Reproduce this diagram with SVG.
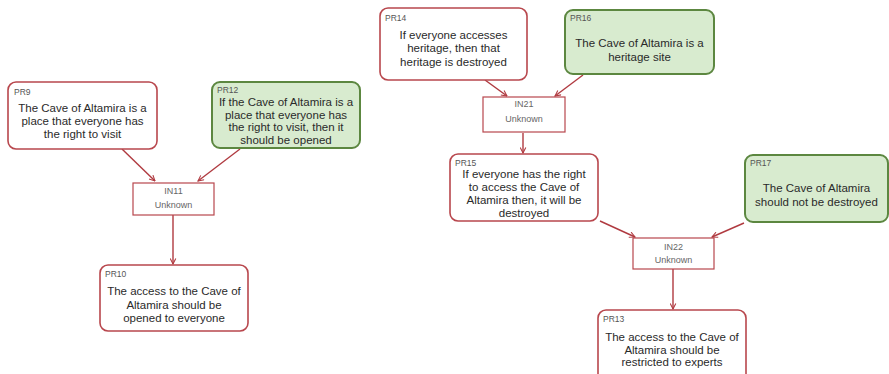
<svg xmlns="http://www.w3.org/2000/svg" width="889" height="374" viewBox="0 0 889 374">
<style>
.pr{fill:#ffffff;stroke:#b8474d;stroke-width:1.6}
.prg{fill:#d8ebcf;stroke:#5c8740;stroke-width:2}
.in{fill:#ffffff;stroke:#b8474d;stroke-width:1.2}
.lbl{font-family:"Liberation Sans",Arial,sans-serif;font-size:8.5px;fill:#555}
.txt{font-family:"Liberation Sans",Arial,sans-serif;font-size:11.5px;fill:#2a2a2a;text-anchor:middle}
.itx{font-family:"Liberation Sans",Arial,sans-serif;font-size:9px;fill:#666;text-anchor:middle}
.edge{stroke:#b03a40;stroke-width:1.4;fill:none;marker-end:url(#arr)}
</style>
<defs>
<marker id="arr" viewBox="0 0 10 10" refX="9" refY="5" markerWidth="7" markerHeight="7" orient="auto" markerUnits="userSpaceOnUse">
<path d="M1,1 L9,5 L1,9" fill="none" stroke="#b03a40" stroke-width="1.5"/>
</marker>
</defs>
<rect width="889" height="374" fill="#ffffff"/>
<g id="connectors">
<line class="edge" x1="122" y1="149" x2="155" y2="181"/>
<line class="edge" x1="240" y1="149" x2="198" y2="181"/>
<line class="edge" x1="173" y1="215" x2="173" y2="264"/>
<line class="edge" x1="485" y1="80" x2="507" y2="96"/>
<line class="edge" x1="583" y1="75" x2="555" y2="96"/>
<line class="edge" x1="523" y1="133" x2="523" y2="153"/>
<line class="edge" x1="600" y1="221" x2="635" y2="237"/>
<line class="edge" x1="744" y1="223" x2="712" y2="237"/>
<line class="edge" x1="673" y1="269" x2="673" y2="309"/>
</g>
<g id="PR9">
<rect class="pr" x="8" y="82" width="149" height="67" rx="8"/>
<text class="lbl" x="14" y="95">PR9</text>
<text class="txt" x="82.5" y="112">The Cave of Altamira is a</text>
<text class="txt" x="82.5" y="125">place that everyone has</text>
<text class="txt" x="82.5" y="138">the right to visit</text>
</g>
<g id="PR12">
<rect class="prg" x="212" y="82" width="148" height="66" rx="8"/>
<text class="lbl" x="217" y="93">PR12</text>
<text class="txt" x="286" y="106">If the Cave of Altamira is a</text>
<text class="txt" x="286" y="119">place that everyone has</text>
<text class="txt" x="286" y="131">the right to visit, then it</text>
<text class="txt" x="286" y="144">should be opened</text>
</g>
<g id="IN11">
<rect class="in" x="133" y="183" width="81" height="32"/>
<text class="itx" x="173.5" y="194">IN11</text>
<text class="itx" x="173.5" y="208">Unknown</text>
</g>
<g id="PR10">
<rect class="pr" x="100" y="265" width="148" height="66" rx="8"/>
<text class="lbl" x="105" y="277">PR10</text>
<text class="txt" x="174" y="295">The access to the Cave of</text>
<text class="txt" x="174" y="309">Altamira should be</text>
<text class="txt" x="174" y="322">opened to everyone</text>
</g>
<g id="PR14">
<rect class="pr" x="380" y="8" width="147" height="72" rx="8"/>
<text class="lbl" x="385" y="21">PR14</text>
<text class="txt" x="453.5" y="39">If everyone accesses</text>
<text class="txt" x="453.5" y="52">heritage, then that</text>
<text class="txt" x="453.5" y="66">heritage is destroyed</text>
</g>
<g id="PR16">
<rect class="prg" x="565" y="10" width="149" height="64" rx="8"/>
<text class="lbl" x="570" y="21">PR16</text>
<text class="txt" x="639.5" y="47">The Cave of Altamira is a</text>
<text class="txt" x="639.5" y="61">heritage site</text>
</g>
<g id="IN21">
<rect class="in" x="483" y="97" width="82" height="35"/>
<text class="itx" x="524" y="107">IN21</text>
<text class="itx" x="524" y="122">Unknown</text>
</g>
<g id="PR15">
<rect class="pr" x="450" y="154" width="148" height="67" rx="8"/>
<text class="lbl" x="455" y="166">PR15</text>
<text class="txt" x="524" y="178">If everyone has the right</text>
<text class="txt" x="524" y="191">to access the Cave of</text>
<text class="txt" x="524" y="204">Altamira then, it will be</text>
<text class="txt" x="524" y="217">destroyed</text>
</g>
<g id="PR17">
<rect class="prg" x="745" y="155" width="143" height="67" rx="8"/>
<text class="lbl" x="750" y="166">PR17</text>
<text class="txt" x="816.5" y="192">The Cave of Altamira</text>
<text class="txt" x="816.5" y="206">should not be destroyed</text>
</g>
<g id="IN22">
<rect class="in" x="633" y="238" width="81" height="31"/>
<text class="itx" x="673.5" y="250">IN22</text>
<text class="itx" x="673.5" y="263">Unknown</text>
</g>
<g id="PR13">
<rect class="pr" x="598" y="310" width="148" height="72" rx="8"/>
<text class="lbl" x="603" y="322">PR13</text>
<text class="txt" x="672" y="341">The access to the Cave of</text>
<text class="txt" x="672" y="354">Altamira should be</text>
<text class="txt" x="672" y="366">restricted to experts</text>
</g>
</svg>
